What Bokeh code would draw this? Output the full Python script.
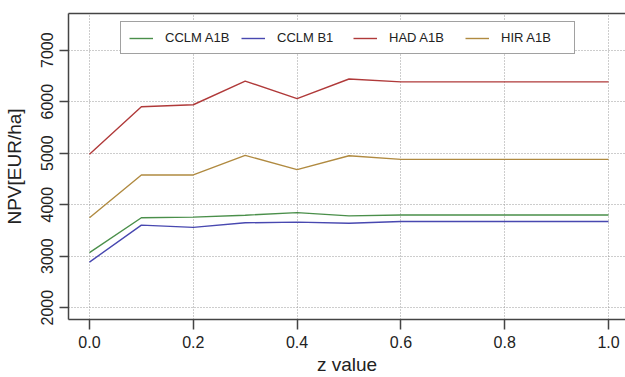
from bokeh.plotting import figure
from bokeh.models import Range1d, LinearAxis, Legend, LegendItem, FixedTicker, Grid, NumeralTickFormatter
from bokeh.embed import file_html
from bokeh.resources import INLINE

z = [0.0, 0.1, 0.2, 0.3, 0.4, 0.5, 0.6, 0.7, 0.8, 0.9, 1.0]
cclm_a1b = [3070, 3745, 3757, 3795, 3846, 3782, 3800, 3800, 3800, 3800, 3800]
cclm_b1 = [2885, 3603, 3558, 3648, 3660, 3640, 3673, 3673, 3673, 3673, 3673]
had_a1b = [4980, 5900, 5940, 6400, 6060, 6440, 6385, 6385, 6385, 6385, 6385]
hir_a1b = [3745, 4577, 4577, 4956, 4680, 4950, 4880, 4880, 4880, 4880, 4880]
names = ["CCLM A1B", "CCLM B1", "HAD A1B", "HIR A1B"]
colors = ["#4a8f4a", "#4848b0", "#b03a3a", "#b08a40"]
x_ticks = [0.0, 0.2, 0.4, 0.6, 0.8, 1.0]
y_ticks = [2000, 3000, 4000, 5000, 6000, 7000]

FONT = "Liberation Sans"

p = figure(width=625, height=377, output_backend="svg", toolbar_location=None,
           x_range=Range1d(-0.0404, 1.0327), y_range=Range1d(1770, 7712),
           x_axis_location=None, y_axis_location=None,
           min_border_left=67, min_border_right=0, min_border_top=13, min_border_bottom=55)
p.outline_line_color = None
p.background_fill_color = "white"
p.border_fill_color = "white"

xaxis = LinearAxis(ticker=FixedTicker(ticks=x_ticks), axis_label="z value",
                   formatter=NumeralTickFormatter(format="0.0"))
yaxis = LinearAxis(ticker=FixedTicker(ticks=y_ticks), axis_label="NPV[EUR/ha]")
top = LinearAxis(ticker=FixedTicker(ticks=[]))
for ax in (xaxis, yaxis):
    ax.axis_line_color = "#444444"
    ax.axis_line_width = 1.5
    ax.major_tick_line_color = "#444444"
    ax.major_tick_line_width = 1.5
    ax.major_tick_in = 0
    ax.minor_tick_line_color = None
    ax.major_label_text_font = FONT
    ax.major_label_text_font_size = "16px"
    ax.major_label_text_color = "#222222"
    ax.axis_label_text_font = FONT
    ax.axis_label_text_font_size = "19px"
    ax.axis_label_text_font_style = "normal"
    ax.axis_label_text_color = "#222222"
xaxis.major_tick_out = 10
xaxis.major_label_standoff = 6
xaxis.axis_label_standoff = 3
yaxis.major_tick_out = 9
yaxis.major_label_standoff = 6
yaxis.major_label_orientation = "vertical"
yaxis.axis_label_standoff = 14
top.axis_line_color = "#444444"
top.axis_line_width = 1.5
top.major_tick_line_color = None
top.minor_tick_line_color = None
top.major_label_text_font_size = "0px"
p.add_layout(xaxis, "below")
p.add_layout(yaxis, "left")
p.add_layout(top, "above")

p.xgrid.visible = False
p.ygrid.visible = False
gx = Grid(dimension=0, ticker=xaxis.ticker, grid_line_color="#9a9a9a", grid_line_dash="1 2", grid_line_width=1)
gy = Grid(dimension=1, ticker=yaxis.ticker, grid_line_color="#9a9a9a", grid_line_dash="1 2", grid_line_width=1)
p.add_layout(gx)
p.add_layout(gy)

series = [cclm_a1b, cclm_b1, had_a1b, hir_a1b]
items = []
for name, col, ys in zip(names, colors, series):
    r = p.line(z, ys, line_color=col, line_width=1.4)
    items.append(LegendItem(label=name, renderers=[r]))

legend = Legend(items=items, orientation="horizontal", location=(52, 265),
                label_text_font=FONT, label_text_font_size="13px", label_text_color="#222222",
                glyph_width=24, glyph_height=14, label_height=14, label_width=65,
                label_standoff=12, spacing=11,
                padding=8, margin=0, border_line_color="#444444", border_line_width=1.5,
                background_fill_color="white", background_fill_alpha=1.0)
p.add_layout(legend, "center")

open("out.html", "w").write(file_html(p, INLINE))
